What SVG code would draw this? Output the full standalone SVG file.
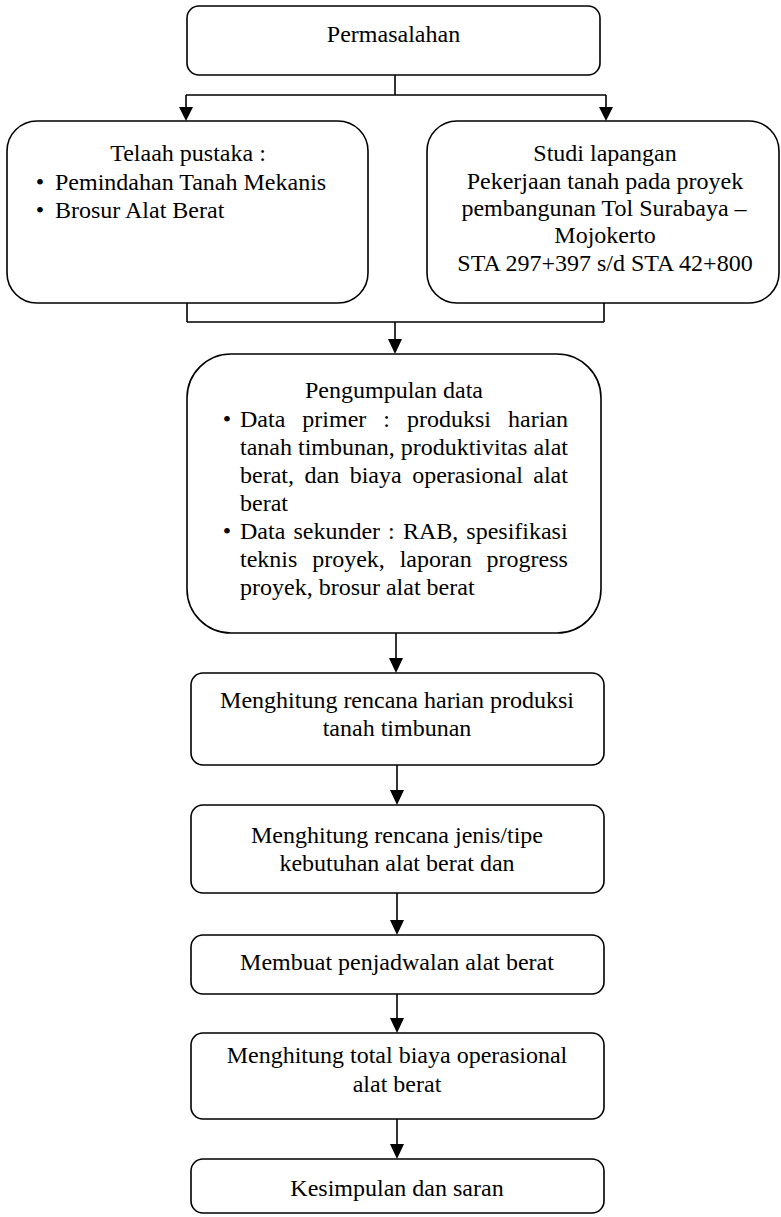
<svg xmlns="http://www.w3.org/2000/svg" width="781" height="1217" viewBox="0 0 781 1217" font-family="'Liberation Serif', 'Times New Roman', 'DejaVu Serif', serif" font-size="24">
<style>
.box{fill:#fff;stroke:#000;stroke-width:1.6}
.ln{fill:none;stroke:#000;stroke-width:1.6}
.ah{fill:#000;stroke:none}
text{font-family:'Liberation Serif','Times New Roman','DejaVu Serif',serif;font-size:24px;fill:#000}
.c{text-anchor:middle}
</style>
<rect width="781" height="1217" fill="#fff"/>
<g id="connectors">
<path class="ln" d="M395,75 V95 M186,95 H606 M186,95 V108 M606,95 V108"/>
<polygon class="ah" points="179,107 193,107 186,121"/>
<polygon class="ah" points="599,107 613,107 606,121"/>
<path class="ln" d="M187,303 V322 M604,303 V322 M187,322 H604 M395,322 V340"/>
<polygon class="ah" points="388,339 402,339 395,354"/>
<path class="ln" d="M396,633 V659"/>
<polygon class="ah" points="389,658 403,658 396,673"/>
<path class="ln" d="M397,765 V791"/>
<polygon class="ah" points="390,790 404,790 397,805"/>
<path class="ln" d="M397,893 V921"/>
<polygon class="ah" points="390,920 404,920 397,935"/>
<path class="ln" d="M397,994 V1019"/>
<polygon class="ah" points="390,1018 404,1018 397,1033"/>
<path class="ln" d="M397,1119 V1145"/>
<polygon class="ah" points="390,1144 404,1144 397,1159"/>
</g>
<g id="permasalahan">
<rect class="box" x="187" y="6" width="413" height="69" rx="12"/>
<text class="c" x="393.5" y="42">Permasalahan</text>
</g>
<g id="telaah">
<rect class="box" x="7" y="121" width="361" height="182" rx="30"/>
<text class="c" x="188" y="161">Telaah pustaka :</text>
<text class="c" x="40" y="190">•</text>
<text x="55" y="190">Pemindahan Tanah Mekanis</text>
<text class="c" x="40" y="218">•</text>
<text x="55" y="218">Brosur Alat Berat</text>
</g>
<g id="studi">
<rect class="box" x="427" y="121" width="352" height="182" rx="30"/>
<text class="c" x="605" y="161">Studi lapangan</text>
<text class="c" x="605" y="189">Pekerjaan tanah pada proyek</text>
<text class="c" x="604" y="216">pembangunan Tol Surabaya –</text>
<text class="c" x="605" y="243">Mojokerto</text>
<text class="c" x="605" y="271">STA 297+397 s/d STA 42+800</text>
</g>
<g id="pengumpulan">
<rect class="box" x="187" y="354" width="414" height="279" rx="44"/>
<text class="c" x="394" y="398">Pengumpulan data</text>
<text class="c" x="227" y="427">•</text>
<text y="427"><tspan x="240">Data</tspan><tspan x="302.3">primer</tspan><tspan x="383.3">:</tspan><tspan x="407">produksi</tspan><tspan x="508">harian</tspan></text>
<text y="455"><tspan x="240">tanah</tspan><tspan x="298">timbunan,</tspan><tspan x="400.7">produktivitas</tspan><tspan x="533.4">alat</tspan></text>
<text y="483"><tspan x="240">berat,</tspan><tspan x="304.5">dan</tspan><tspan x="349.7">biaya</tspan><tspan x="412.2">operasional</tspan><tspan x="533.3">alat</tspan></text>
<text x="240" y="511">berat</text>
<text class="c" x="227" y="539">•</text>
<text y="539"><tspan x="240">Data</tspan><tspan x="293.4">sekunder</tspan><tspan x="388.1">:</tspan><tspan x="402.9">RAB,</tspan><tspan x="466.3">spesifikasi</tspan></text>
<text y="567"><tspan x="240">teknis</tspan><tspan x="312.2">proyek,</tspan><tspan x="399.7">laporan</tspan><tspan x="486.6">progress</tspan></text>
<text x="240" y="595">proyek, brosur alat berat</text>
</g>
<g id="rencana-produksi">
<rect class="box" x="191" y="673" width="413" height="92" rx="12"/>
<text class="c" x="397" y="708">Menghitung rencana harian produksi</text>
<text class="c" x="397" y="736">tanah timbunan</text>
</g>
<g id="rencana-alat">
<rect class="box" x="191" y="805" width="413" height="88" rx="12"/>
<text class="c" x="397" y="843">Menghitung rencana jenis/tipe</text>
<text class="c" x="397" y="871">kebutuhan alat berat dan</text>
</g>
<g id="penjadwalan">
<rect class="box" x="191" y="935" width="413" height="59" rx="12"/>
<text class="c" x="397" y="970">Membuat penjadwalan alat berat</text>
</g>
<g id="biaya">
<rect class="box" x="191" y="1033" width="413" height="86" rx="12"/>
<text class="c" x="397" y="1063">Menghitung total biaya operasional</text>
<text class="c" x="397" y="1092">alat berat</text>
</g>
<g id="kesimpulan">
<rect class="box" x="191" y="1159" width="413" height="54" rx="12"/>
<text class="c" x="397" y="1196">Kesimpulan dan saran</text>
</g>
</svg>
